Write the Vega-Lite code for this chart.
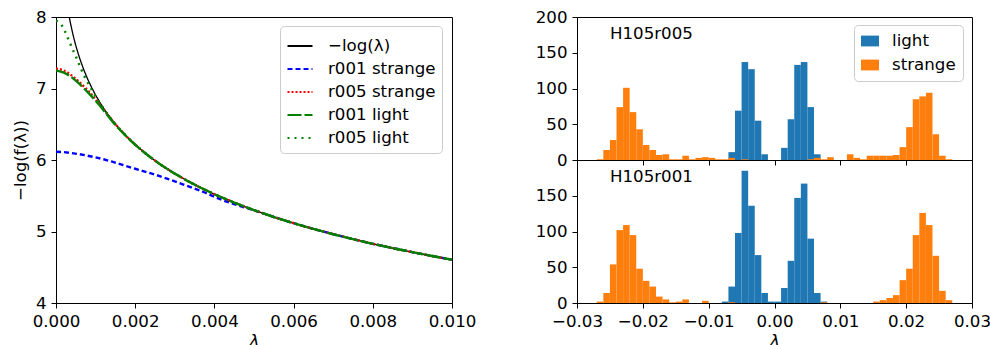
{
  "$schema": "https://vega.github.io/schema/vega-lite/v6.json",
  "padding": {"left": 11, "top": 8, "right": 5, "bottom": 0},
  "background": "white",
  "config": {
    "font": "DejaVu Sans",
    "view": {"stroke": "black", "strokeWidth": 1},
    "axis": {"domainColor": "black", "tickColor": "black", "labelColor": "black", "titleColor": "black", "labelFontSize": 16.67, "titleFontSize": 16.67, "titleFontWeight": "normal", "tickSize": 5, "labelPadding": 5, "grid": false, "labelFont": "DejaVu Sans", "titleFont": "DejaVu Sans", "labelFlush": false, "labelOverlap": false},
    "text": {"font": "DejaVu Sans"}
  },
  "datasets": {
    "curves": [
      {"series": "−log(λ)", "lam": 0.000335, "v": 8.001},
      {"series": "−log(λ)", "lam": 0.00036, "v": 7.929},
      {"series": "−log(λ)", "lam": 0.0004, "v": 7.824},
      {"series": "−log(λ)", "lam": 0.00045, "v": 7.706},
      {"series": "−log(λ)", "lam": 0.0005, "v": 7.601},
      {"series": "−log(λ)", "lam": 0.00055, "v": 7.506},
      {"series": "−log(λ)", "lam": 0.0006, "v": 7.419},
      {"series": "−log(λ)", "lam": 0.0007, "v": 7.264},
      {"series": "−log(λ)", "lam": 0.0008, "v": 7.131},
      {"series": "−log(λ)", "lam": 0.0009, "v": 7.013},
      {"series": "−log(λ)", "lam": 0.001, "v": 6.908},
      {"series": "−log(λ)", "lam": 0.0011, "v": 6.812},
      {"series": "−log(λ)", "lam": 0.0012, "v": 6.725},
      {"series": "−log(λ)", "lam": 0.0013, "v": 6.645},
      {"series": "−log(λ)", "lam": 0.0014, "v": 6.571},
      {"series": "−log(λ)", "lam": 0.0015, "v": 6.502},
      {"series": "−log(λ)", "lam": 0.0016, "v": 6.438},
      {"series": "−log(λ)", "lam": 0.0018, "v": 6.32},
      {"series": "−log(λ)", "lam": 0.002, "v": 6.215},
      {"series": "−log(λ)", "lam": 0.0022, "v": 6.119},
      {"series": "−log(λ)", "lam": 0.0024, "v": 6.032},
      {"series": "−log(λ)", "lam": 0.0026, "v": 5.952},
      {"series": "−log(λ)", "lam": 0.0028, "v": 5.878},
      {"series": "−log(λ)", "lam": 0.003, "v": 5.809},
      {"series": "−log(λ)", "lam": 0.0033, "v": 5.714},
      {"series": "−log(λ)", "lam": 0.0036, "v": 5.627},
      {"series": "−log(λ)", "lam": 0.004, "v": 5.521},
      {"series": "−log(λ)", "lam": 0.0045, "v": 5.404},
      {"series": "−log(λ)", "lam": 0.005, "v": 5.298},
      {"series": "−log(λ)", "lam": 0.0055, "v": 5.203},
      {"series": "−log(λ)", "lam": 0.006, "v": 5.116},
      {"series": "−log(λ)", "lam": 0.0065, "v": 5.036},
      {"series": "−log(λ)", "lam": 0.007, "v": 4.962},
      {"series": "−log(λ)", "lam": 0.0075, "v": 4.893},
      {"series": "−log(λ)", "lam": 0.008, "v": 4.828},
      {"series": "−log(λ)", "lam": 0.0085, "v": 4.768},
      {"series": "−log(λ)", "lam": 0.009, "v": 4.711},
      {"series": "−log(λ)", "lam": 0.0095, "v": 4.657},
      {"series": "−log(λ)", "lam": 0.01, "v": 4.605},

      {"series": "r001 strange", "lam": 0, "v": 6.115},
      {"series": "r001 strange", "lam": 0.0002, "v": 6.11},
      {"series": "r001 strange", "lam": 0.0004, "v": 6.097},
      {"series": "r001 strange", "lam": 0.0006, "v": 6.08},
      {"series": "r001 strange", "lam": 0.0008, "v": 6.06},
      {"series": "r001 strange", "lam": 0.001, "v": 6.037},
      {"series": "r001 strange", "lam": 0.0012, "v": 6.01},
      {"series": "r001 strange", "lam": 0.0014, "v": 5.98},
      {"series": "r001 strange", "lam": 0.0016, "v": 5.945},
      {"series": "r001 strange", "lam": 0.0018, "v": 5.91},
      {"series": "r001 strange", "lam": 0.002, "v": 5.878},
      {"series": "r001 strange", "lam": 0.0022, "v": 5.845},
      {"series": "r001 strange", "lam": 0.0024, "v": 5.812},
      {"series": "r001 strange", "lam": 0.0026, "v": 5.778},
      {"series": "r001 strange", "lam": 0.0028, "v": 5.74},
      {"series": "r001 strange", "lam": 0.003, "v": 5.7},
      {"series": "r001 strange", "lam": 0.0032, "v": 5.66},
      {"series": "r001 strange", "lam": 0.0034, "v": 5.62},
      {"series": "r001 strange", "lam": 0.0036, "v": 5.58},
      {"series": "r001 strange", "lam": 0.0038, "v": 5.535},
      {"series": "r001 strange", "lam": 0.004, "v": 5.485},
      {"series": "r001 strange", "lam": 0.0042, "v": 5.44},
      {"series": "r001 strange", "lam": 0.0044, "v": 5.4},
      {"series": "r001 strange", "lam": 0.0046, "v": 5.365},
      {"series": "r001 strange", "lam": 0.0048, "v": 5.33},
      {"series": "r001 strange", "lam": 0.005, "v": 5.297},
      {"series": "r001 strange", "lam": 0.0055, "v": 5.203},
      {"series": "r001 strange", "lam": 0.006, "v": 5.116},
      {"series": "r001 strange", "lam": 0.0065, "v": 5.036},
      {"series": "r001 strange", "lam": 0.007, "v": 4.962},
      {"series": "r001 strange", "lam": 0.0075, "v": 4.893},
      {"series": "r001 strange", "lam": 0.008, "v": 4.828},
      {"series": "r001 strange", "lam": 0.0085, "v": 4.768},
      {"series": "r001 strange", "lam": 0.009, "v": 4.711},
      {"series": "r001 strange", "lam": 0.0095, "v": 4.657},
      {"series": "r001 strange", "lam": 0.01, "v": 4.605},

      {"series": "r005 strange", "lam": 0, "v": 7.28},
      {"series": "r005 strange", "lam": 0.0001, "v": 7.27},
      {"series": "r005 strange", "lam": 0.0002, "v": 7.25},
      {"series": "r005 strange", "lam": 0.0003, "v": 7.22},
      {"series": "r005 strange", "lam": 0.0004, "v": 7.18},
      {"series": "r005 strange", "lam": 0.0005, "v": 7.135},
      {"series": "r005 strange", "lam": 0.0006, "v": 7.085},
      {"series": "r005 strange", "lam": 0.0007, "v": 7.03},
      {"series": "r005 strange", "lam": 0.0008, "v": 6.975},
      {"series": "r005 strange", "lam": 0.0009, "v": 6.915},
      {"series": "r005 strange", "lam": 0.001, "v": 6.85},
      {"series": "r005 strange", "lam": 0.0011, "v": 6.78},
      {"series": "r005 strange", "lam": 0.0012, "v": 6.71},
      {"series": "r005 strange", "lam": 0.0013, "v": 6.64},
      {"series": "r005 strange", "lam": 0.0014, "v": 6.565},
      {"series": "r005 strange", "lam": 0.0015, "v": 6.5},
      {"series": "r005 strange", "lam": 0.0016, "v": 6.436},
      {"series": "r005 strange", "lam": 0.0018, "v": 6.319},
      {"series": "r005 strange", "lam": 0.002, "v": 6.215},
      {"series": "r005 strange", "lam": 0.0022, "v": 6.119},
      {"series": "r005 strange", "lam": 0.0024, "v": 6.032},
      {"series": "r005 strange", "lam": 0.0026, "v": 5.952},
      {"series": "r005 strange", "lam": 0.0028, "v": 5.878},
      {"series": "r005 strange", "lam": 0.003, "v": 5.809},
      {"series": "r005 strange", "lam": 0.0033, "v": 5.714},
      {"series": "r005 strange", "lam": 0.0036, "v": 5.627},
      {"series": "r005 strange", "lam": 0.004, "v": 5.521},
      {"series": "r005 strange", "lam": 0.0045, "v": 5.404},
      {"series": "r005 strange", "lam": 0.005, "v": 5.298},
      {"series": "r005 strange", "lam": 0.0055, "v": 5.203},
      {"series": "r005 strange", "lam": 0.006, "v": 5.116},
      {"series": "r005 strange", "lam": 0.0065, "v": 5.036},
      {"series": "r005 strange", "lam": 0.007, "v": 4.962},
      {"series": "r005 strange", "lam": 0.0075, "v": 4.893},
      {"series": "r005 strange", "lam": 0.008, "v": 4.828},
      {"series": "r005 strange", "lam": 0.0085, "v": 4.768},
      {"series": "r005 strange", "lam": 0.009, "v": 4.711},
      {"series": "r005 strange", "lam": 0.0095, "v": 4.657},
      {"series": "r005 strange", "lam": 0.01, "v": 4.605},

      {"series": "r001 light", "lam": 0, "v": 7.25},
      {"series": "r001 light", "lam": 0.0001, "v": 7.24},
      {"series": "r001 light", "lam": 0.0002, "v": 7.222},
      {"series": "r001 light", "lam": 0.0003, "v": 7.193},
      {"series": "r001 light", "lam": 0.0004, "v": 7.155},
      {"series": "r001 light", "lam": 0.0005, "v": 7.11},
      {"series": "r001 light", "lam": 0.0006, "v": 7.06},
      {"series": "r001 light", "lam": 0.0007, "v": 7.005},
      {"series": "r001 light", "lam": 0.0008, "v": 6.95},
      {"series": "r001 light", "lam": 0.0009, "v": 6.89},
      {"series": "r001 light", "lam": 0.001, "v": 6.83},
      {"series": "r001 light", "lam": 0.0011, "v": 6.765},
      {"series": "r001 light", "lam": 0.0012, "v": 6.695},
      {"series": "r001 light", "lam": 0.0013, "v": 6.625},
      {"series": "r001 light", "lam": 0.0014, "v": 6.555},
      {"series": "r001 light", "lam": 0.0015, "v": 6.49},
      {"series": "r001 light", "lam": 0.0016, "v": 6.43},
      {"series": "r001 light", "lam": 0.0018, "v": 6.316},
      {"series": "r001 light", "lam": 0.002, "v": 6.213},
      {"series": "r001 light", "lam": 0.0022, "v": 6.119},
      {"series": "r001 light", "lam": 0.0024, "v": 6.032},
      {"series": "r001 light", "lam": 0.0026, "v": 5.952},
      {"series": "r001 light", "lam": 0.0028, "v": 5.878},
      {"series": "r001 light", "lam": 0.003, "v": 5.809},
      {"series": "r001 light", "lam": 0.0033, "v": 5.714},
      {"series": "r001 light", "lam": 0.0036, "v": 5.627},
      {"series": "r001 light", "lam": 0.004, "v": 5.521},
      {"series": "r001 light", "lam": 0.0045, "v": 5.404},
      {"series": "r001 light", "lam": 0.005, "v": 5.298},
      {"series": "r001 light", "lam": 0.0055, "v": 5.203},
      {"series": "r001 light", "lam": 0.006, "v": 5.116},
      {"series": "r001 light", "lam": 0.0065, "v": 5.036},
      {"series": "r001 light", "lam": 0.007, "v": 4.962},
      {"series": "r001 light", "lam": 0.0075, "v": 4.893},
      {"series": "r001 light", "lam": 0.008, "v": 4.828},
      {"series": "r001 light", "lam": 0.0085, "v": 4.768},
      {"series": "r001 light", "lam": 0.009, "v": 4.711},
      {"series": "r001 light", "lam": 0.0095, "v": 4.657},
      {"series": "r001 light", "lam": 0.01, "v": 4.605},

      {"series": "r005 light", "lam": 0, "v": 7.95},
      {"series": "r005 light", "lam": 0.00005, "v": 7.935},
      {"series": "r005 light", "lam": 0.0001, "v": 7.915},
      {"series": "r005 light", "lam": 0.00015, "v": 7.88},
      {"series": "r005 light", "lam": 0.0002, "v": 7.835},
      {"series": "r005 light", "lam": 0.00025, "v": 7.77},
      {"series": "r005 light", "lam": 0.0003, "v": 7.705},
      {"series": "r005 light", "lam": 0.00035, "v": 7.64},
      {"series": "r005 light", "lam": 0.0004, "v": 7.575},
      {"series": "r005 light", "lam": 0.00045, "v": 7.51},
      {"series": "r005 light", "lam": 0.0005, "v": 7.45},
      {"series": "r005 light", "lam": 0.0006, "v": 7.315},
      {"series": "r005 light", "lam": 0.0007, "v": 7.19},
      {"series": "r005 light", "lam": 0.0008, "v": 7.085},
      {"series": "r005 light", "lam": 0.0009, "v": 6.985},
      {"series": "r005 light", "lam": 0.001, "v": 6.89},
      {"series": "r005 light", "lam": 0.0011, "v": 6.8},
      {"series": "r005 light", "lam": 0.0012, "v": 6.72},
      {"series": "r005 light", "lam": 0.0013, "v": 6.642},
      {"series": "r005 light", "lam": 0.0014, "v": 6.57},
      {"series": "r005 light", "lam": 0.0015, "v": 6.502},
      {"series": "r005 light", "lam": 0.0016, "v": 6.438},
      {"series": "r005 light", "lam": 0.0018, "v": 6.32},
      {"series": "r005 light", "lam": 0.002, "v": 6.215},
      {"series": "r005 light", "lam": 0.0022, "v": 6.119},
      {"series": "r005 light", "lam": 0.0024, "v": 6.032},
      {"series": "r005 light", "lam": 0.0026, "v": 5.952},
      {"series": "r005 light", "lam": 0.0028, "v": 5.878},
      {"series": "r005 light", "lam": 0.003, "v": 5.809},
      {"series": "r005 light", "lam": 0.0033, "v": 5.714},
      {"series": "r005 light", "lam": 0.0036, "v": 5.627},
      {"series": "r005 light", "lam": 0.004, "v": 5.521},
      {"series": "r005 light", "lam": 0.0045, "v": 5.404},
      {"series": "r005 light", "lam": 0.005, "v": 5.298},
      {"series": "r005 light", "lam": 0.0055, "v": 5.203},
      {"series": "r005 light", "lam": 0.006, "v": 5.116},
      {"series": "r005 light", "lam": 0.0065, "v": 5.036},
      {"series": "r005 light", "lam": 0.007, "v": 4.962},
      {"series": "r005 light", "lam": 0.0075, "v": 4.893},
      {"series": "r005 light", "lam": 0.008, "v": 4.828},
      {"series": "r005 light", "lam": 0.0085, "v": 4.768},
      {"series": "r005 light", "lam": 0.009, "v": 4.711},
      {"series": "r005 light", "lam": 0.0095, "v": 4.657},
      {"series": "r005 light", "lam": 0.01, "v": 4.605}
    ],
    "h005": [
      {"flavor": "light", "lo": -0.007, "hi": -0.006, "count": 11},
      {"flavor": "light", "lo": -0.006, "hi": -0.005, "count": 69},
      {"flavor": "light", "lo": -0.005, "hi": -0.004, "count": 137},
      {"flavor": "light", "lo": -0.004, "hi": -0.003, "count": 127},
      {"flavor": "light", "lo": -0.003, "hi": -0.002, "count": 55},
      {"flavor": "light", "lo": -0.002, "hi": -0.001, "count": 8},
      {"flavor": "light", "lo": 0.001, "hi": 0.002, "count": 17},
      {"flavor": "light", "lo": 0.002, "hi": 0.003, "count": 57},
      {"flavor": "light", "lo": 0.003, "hi": 0.004, "count": 133},
      {"flavor": "light", "lo": 0.004, "hi": 0.005, "count": 137},
      {"flavor": "light", "lo": 0.005, "hi": 0.006, "count": 74},
      {"flavor": "light", "lo": 0.006, "hi": 0.007, "count": 8},
      {"flavor": "strange", "lo": -0.027, "hi": -0.026, "count": 1},
      {"flavor": "strange", "lo": -0.026, "hi": -0.025, "count": 14},
      {"flavor": "strange", "lo": -0.025, "hi": -0.024, "count": 28},
      {"flavor": "strange", "lo": -0.024, "hi": -0.023, "count": 74},
      {"flavor": "strange", "lo": -0.023, "hi": -0.022, "count": 101},
      {"flavor": "strange", "lo": -0.022, "hi": -0.021, "count": 67},
      {"flavor": "strange", "lo": -0.021, "hi": -0.02, "count": 43},
      {"flavor": "strange", "lo": -0.02, "hi": -0.019, "count": 21},
      {"flavor": "strange", "lo": -0.019, "hi": -0.018, "count": 14},
      {"flavor": "strange", "lo": -0.018, "hi": -0.017, "count": 7},
      {"flavor": "strange", "lo": -0.017, "hi": -0.016, "count": 8},
      {"flavor": "strange", "lo": -0.016, "hi": -0.015, "count": 1},
      {"flavor": "strange", "lo": -0.015, "hi": -0.014, "count": 1},
      {"flavor": "strange", "lo": -0.014, "hi": -0.013, "count": 6},
      {"flavor": "strange", "lo": -0.013, "hi": -0.012, "count": 1},
      {"flavor": "strange", "lo": -0.012, "hi": -0.011, "count": 3},
      {"flavor": "strange", "lo": -0.011, "hi": -0.01, "count": 4},
      {"flavor": "strange", "lo": -0.01, "hi": -0.009, "count": 3},
      {"flavor": "strange", "lo": -0.009, "hi": -0.008, "count": 1},
      {"flavor": "strange", "lo": -0.008, "hi": -0.007, "count": 1},
      {"flavor": "strange", "lo": -0.007, "hi": -0.006, "count": 3},
      {"flavor": "strange", "lo": -0.005, "hi": -0.004, "count": 1},
      {"flavor": "strange", "lo": 0.005, "hi": 0.006, "count": 1},
      {"flavor": "strange", "lo": 0.006, "hi": 0.007, "count": 3},
      {"flavor": "strange", "lo": 0.007, "hi": 0.008, "count": 1},
      {"flavor": "strange", "lo": 0.008, "hi": 0.009, "count": 4},
      {"flavor": "strange", "lo": 0.011, "hi": 0.012, "count": 8},
      {"flavor": "strange", "lo": 0.012, "hi": 0.013, "count": 3},
      {"flavor": "strange", "lo": 0.013, "hi": 0.014, "count": 1},
      {"flavor": "strange", "lo": 0.014, "hi": 0.015, "count": 6},
      {"flavor": "strange", "lo": 0.015, "hi": 0.016, "count": 6},
      {"flavor": "strange", "lo": 0.016, "hi": 0.017, "count": 6},
      {"flavor": "strange", "lo": 0.017, "hi": 0.018, "count": 6},
      {"flavor": "strange", "lo": 0.018, "hi": 0.019, "count": 7},
      {"flavor": "strange", "lo": 0.019, "hi": 0.02, "count": 18},
      {"flavor": "strange", "lo": 0.02, "hi": 0.021, "count": 46},
      {"flavor": "strange", "lo": 0.021, "hi": 0.022, "count": 85},
      {"flavor": "strange", "lo": 0.022, "hi": 0.023, "count": 89},
      {"flavor": "strange", "lo": 0.023, "hi": 0.024, "count": 94},
      {"flavor": "strange", "lo": 0.024, "hi": 0.025, "count": 36},
      {"flavor": "strange", "lo": 0.025, "hi": 0.026, "count": 6},
      {"flavor": "strange", "lo": 0.026, "hi": 0.027, "count": 1}
    ],
    "h001": [
      {"flavor": "light", "lo": -0.008, "hi": -0.007, "count": 2},
      {"flavor": "light", "lo": -0.007, "hi": -0.006, "count": 23},
      {"flavor": "light", "lo": -0.006, "hi": -0.005, "count": 98},
      {"flavor": "light", "lo": -0.005, "hi": -0.004, "count": 185},
      {"flavor": "light", "lo": -0.004, "hi": -0.003, "count": 136},
      {"flavor": "light", "lo": -0.003, "hi": -0.002, "count": 67},
      {"flavor": "light", "lo": -0.002, "hi": -0.001, "count": 14},
      {"flavor": "light", "lo": -0.001, "hi": 0.0, "count": 2},
      {"flavor": "light", "lo": 0.0, "hi": 0.001, "count": 2},
      {"flavor": "light", "lo": 0.001, "hi": 0.002, "count": 21},
      {"flavor": "light", "lo": 0.002, "hi": 0.003, "count": 59},
      {"flavor": "light", "lo": 0.003, "hi": 0.004, "count": 147},
      {"flavor": "light", "lo": 0.004, "hi": 0.005, "count": 167},
      {"flavor": "light", "lo": 0.005, "hi": 0.006, "count": 90},
      {"flavor": "light", "lo": 0.006, "hi": 0.007, "count": 14},
      {"flavor": "light", "lo": 0.007, "hi": 0.008, "count": 2},
      {"flavor": "strange", "lo": -0.027, "hi": -0.026, "count": 2},
      {"flavor": "strange", "lo": -0.026, "hi": -0.025, "count": 14},
      {"flavor": "strange", "lo": -0.025, "hi": -0.024, "count": 54},
      {"flavor": "strange", "lo": -0.024, "hi": -0.023, "count": 102},
      {"flavor": "strange", "lo": -0.023, "hi": -0.022, "count": 109},
      {"flavor": "strange", "lo": -0.022, "hi": -0.021, "count": 95},
      {"flavor": "strange", "lo": -0.021, "hi": -0.02, "count": 48},
      {"flavor": "strange", "lo": -0.02, "hi": -0.019, "count": 31},
      {"flavor": "strange", "lo": -0.019, "hi": -0.018, "count": 23},
      {"flavor": "strange", "lo": -0.018, "hi": -0.017, "count": 9},
      {"flavor": "strange", "lo": -0.017, "hi": -0.016, "count": 5},
      {"flavor": "strange", "lo": -0.016, "hi": -0.015, "count": 1},
      {"flavor": "strange", "lo": -0.015, "hi": -0.014, "count": 2},
      {"flavor": "strange", "lo": -0.014, "hi": -0.013, "count": 5},
      {"flavor": "strange", "lo": -0.011, "hi": -0.01, "count": 3},
      {"flavor": "strange", "lo": -0.007, "hi": -0.006, "count": 1},
      {"flavor": "strange", "lo": 0.007, "hi": 0.008, "count": 1},
      {"flavor": "strange", "lo": 0.015, "hi": 0.016, "count": 2},
      {"flavor": "strange", "lo": 0.016, "hi": 0.017, "count": 4},
      {"flavor": "strange", "lo": 0.017, "hi": 0.018, "count": 7},
      {"flavor": "strange", "lo": 0.018, "hi": 0.019, "count": 11},
      {"flavor": "strange", "lo": 0.019, "hi": 0.02, "count": 32},
      {"flavor": "strange", "lo": 0.02, "hi": 0.021, "count": 48},
      {"flavor": "strange", "lo": 0.021, "hi": 0.022, "count": 95},
      {"flavor": "strange", "lo": 0.022, "hi": 0.023, "count": 126},
      {"flavor": "strange", "lo": 0.023, "hi": 0.024, "count": 109},
      {"flavor": "strange", "lo": 0.024, "hi": 0.025, "count": 66},
      {"flavor": "strange", "lo": 0.025, "hi": 0.026, "count": 17},
      {"flavor": "strange", "lo": 0.026, "hi": 0.027, "count": 4}
    ],
    "lab005": [{"label": "H105r005"}],
    "lab001": [{"label": "H105r001"}]
  },
  "spacing": 125,
  "bounds": "flush",
  "resolve": {
    "scale": {"color": "independent", "strokeDash": "independent"},
    "legend": {"color": "independent", "strokeDash": "independent"}
  },
  "hconcat": [
    {
      "width": 396,
      "height": 286,
      "data": {"name": "curves"},
      "mark": {"type": "line", "clip": true},
      "encoding": {
        "x": {"field": "lam", "type": "quantitative", "scale": {"domain": [0, 0.01], "nice": false, "zero": false}, "axis": {"values": [0, 0.002, 0.004, 0.006, 0.008, 0.01], "format": ".3f", "title": "λ", "titleFontStyle": "italic", "titlePadding": 3}},
        "y": {"field": "v", "type": "quantitative", "scale": {"domain": [4, 8], "nice": false, "zero": false}, "axis": {"values": [4, 5, 6, 7, 8], "format": "d", "title": "−log(f(λ))", "titlePadding": 6}},
        "color": {"field": "series", "type": "nominal",
          "scale": {"domain": ["−log(λ)", "r001 strange", "r005 strange", "r001 light", "r005 light"], "range": ["#000000", "#0000ff", "#ff0000", "#008000", "#008000"]},
          "legend": {"orient": "none", "legendX": 224, "legendY": 9, "title": null, "symbolType": "stroke", "symbolSize": 625, "symbolStrokeWidth": 2.2, "labelFontSize": 16.67, "labelFont": "DejaVu Sans", "labelColor": "black", "rowPadding": 0, "padding": 6, "fillColor": "white", "strokeColor": "#cccccc", "cornerRadius": 4, "labelOffset": 14}},
        "strokeDash": {"field": "series", "type": "nominal",
          "scale": {"domain": ["−log(λ)", "r001 strange", "r005 strange", "r001 light", "r005 light"], "range": [[1, 0], [5, 3], [2, 2], [14, 3], [2, 5]]},
          "legend": {"orient": "none", "legendX": 224, "legendY": 9, "title": null, "symbolType": "stroke", "symbolSize": 625, "symbolStrokeWidth": 2.2, "labelFontSize": 16.67, "labelFont": "DejaVu Sans", "labelColor": "black", "rowPadding": 0, "padding": 6, "fillColor": "white", "strokeColor": "#cccccc", "cornerRadius": 4, "labelOffset": 14}},
        "strokeWidth": {"condition": {"test": "datum.series === '−log(λ)'", "value": 1.3}, "value": 2.4}
      }
    },
    {
      "spacing": 0,
      "bounds": "flush",
      "resolve": {"scale": {"color": "independent"}, "legend": {"color": "independent"}},
      "vconcat": [
        {
          "width": 395,
          "height": 143,
          "layer": [
            {
              "data": {"name": "h005"},
              "mark": {"type": "bar"},
              "encoding": {
                "x": {"field": "lo", "type": "quantitative", "scale": {"domain": [-0.03, 0.03], "nice": false, "zero": false}, "axis": {"values": [-0.03, -0.02, -0.01, 0, 0.01, 0.02, 0.03], "labels": false, "title": null}},
                "x2": {"field": "hi"},
                "y": {"field": "count", "type": "quantitative", "scale": {"domain": [0, 200], "nice": false}, "axis": {"values": [0, 50, 100, 150, 200], "title": null, "labelOverlap": false}},
                "y2": {"datum": 0},
                "color": {"field": "flavor", "type": "nominal", "scale": {"domain": ["light", "strange"], "range": ["#1f77b4", "#ff7f0e"]},
                  "legend": {"orient": "none", "legendX": 277, "legendY": 8, "title": null, "symbolType": "M-1,-0.6H1V0.6H-1Z", "symbolSize": 324, "symbolStrokeWidth": 0, "symbolOpacity": 1, "labelFontSize": 16.67, "labelFont": "DejaVu Sans", "labelColor": "black", "rowPadding": 6, "padding": 7, "fillColor": "white", "strokeColor": "#cccccc", "cornerRadius": 4, "labelOffset": 13}}
              }
            },
            {
              "data": {"name": "lab005"},
              "mark": {"type": "text", "align": "left", "baseline": "middle", "fontSize": 16.67, "font": "DejaVu Sans", "color": "black"},
              "encoding": {
                "x": {"datum": -0.025, "type": "quantitative", "axis": {"values": [-0.03, -0.02, -0.01, 0, 0.01, 0.02, 0.03], "labels": false, "title": null}},
                "y": {"datum": 176, "type": "quantitative", "axis": {"values": [0, 50, 100, 150, 200], "title": null, "labelOverlap": false}},
                "text": {"field": "label"}
              }
            }
          ]
        },
        {
          "width": 395,
          "height": 143,
          "layer": [
            {
              "data": {"name": "h001"},
              "mark": {"type": "bar"},
              "encoding": {
                "x": {"field": "lo", "type": "quantitative", "scale": {"domain": [-0.03, 0.03], "nice": false, "zero": false}, "axis": {"values": [-0.03, -0.02, -0.01, 0, 0.01, 0.02, 0.03], "format": ".2f", "title": "λ", "titleFontStyle": "italic", "titlePadding": 3}},
                "x2": {"field": "hi"},
                "y": {"field": "count", "type": "quantitative", "scale": {"domain": [0, 200], "nice": false}, "axis": {"values": [0, 50, 100, 150], "title": null, "labelOverlap": false}},
                "y2": {"datum": 0},
                "color": {"field": "flavor", "type": "nominal", "scale": {"domain": ["light", "strange"], "range": ["#1f77b4", "#ff7f0e"]}, "legend": null}
              }
            },
            {
              "data": {"name": "lab001"},
              "mark": {"type": "text", "align": "left", "baseline": "middle", "fontSize": 16.67, "font": "DejaVu Sans", "color": "black"},
              "encoding": {
                "x": {"datum": -0.025, "type": "quantitative", "axis": {"values": [-0.03, -0.02, -0.01, 0, 0.01, 0.02, 0.03], "format": ".2f", "title": "λ", "titleFontStyle": "italic", "titlePadding": 3}},
                "y": {"datum": 176, "type": "quantitative", "axis": {"values": [0, 50, 100, 150], "title": null, "labelOverlap": false}},
                "text": {"field": "label"}
              }
            }
          ]
        }
      ]
    }
  ]
}
